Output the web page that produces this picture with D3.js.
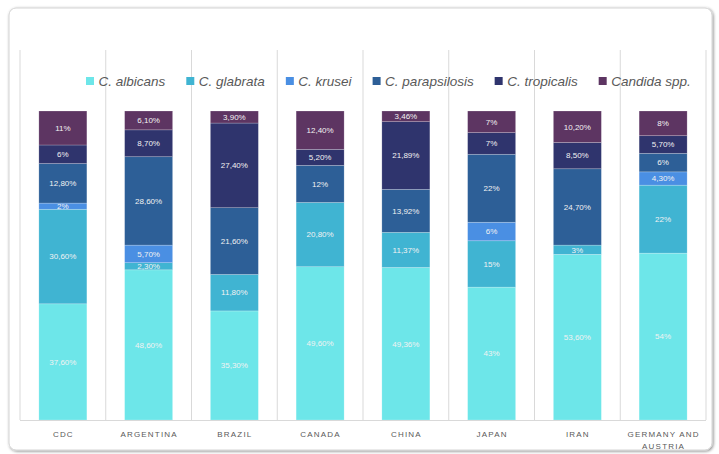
<!DOCTYPE html>
<html>
<head>
<meta charset="utf-8">
<script src="https://cdn.jsdelivr.net/npm/d3@7"></script>
<style>
  body { margin: 0; background: #fff; }
  svg { display: block; }
</style>
</head>
<body>
<div id="chart"></div>
<script>
// categories along the x axis
var countries = ["CDC", "ARGENTINA", "BRAZIL", "CANADA", "CHINA", "JAPAN", "IRAN", "GERMANY AND AUSTRIA"];
var species = ["C. albicans", "C. glabrata", "C. krusei", "C. parapsilosis", "C. tropicalis", "Candida spp."];

// percentage of each species, one value per country
var albicans     = [37.6, 48.6, 35.3, 49.6, 49.36, 43, 53.6, 54];
var glabrata     = [30.6, 2.3, 11.8, 20.8, 11.37, 15, 3, 22];
var krusei       = [2, 5.7, 0, 0, 0, 6, 0, 4.3];
var parapsilosis = [12.8, 28.6, 21.6, 12, 13.92, 22, 24.7, 6];
var tropicalis   = [6, 8.7, 27.4, 5.2, 21.89, 7, 8.5, 5.7];
var candidaSpp   = [11, 6.1, 3.9, 12.4, 3.46, 7, 10.2, 8];

var colors = ["#6de6e9", "#40b4d2", "#4a8fe3", "#2d5f97", "#2f346d", "#5d3562"];

var series = [albicans, glabrata, krusei, parapsilosis, tropicalis, candidaSpp];
var rows = countries.map(function(c, i) {
  var r = {country: c};
  species.forEach(function(s, j) { r[s] = series[j][i]; });
  return r;
});

var W = 719, H = 454;
var svg = d3.select("#chart").append("svg")
    .attr("width", W)
    .attr("height", H);

// frame with a soft shadow
var defs = svg.append("defs");
var f = defs.append("filter").attr("id", "shadow")
    .attr("x", "-5%").attr("y", "-5%").attr("width", "110%").attr("height", "110%");
f.append("feDropShadow").attr("dx", 1).attr("dy", 1).attr("stdDeviation", 1.6)
    .attr("flood-color", "#000").attr("flood-opacity", 0.45);

svg.append("rect")
    .attr("x", 9).attr("y", 8).attr("width", 703).attr("height", 442)
    .attr("rx", 7)
    .attr("fill", "#fff")
    .attr("stroke", "#d4d4d4")
    .attr("filter", "url(#shadow)");

var x = d3.scaleBand().domain(countries).range([20, 706]).padding(0);
var y = d3.scaleLinear().domain([0, 100]).range([420, 111]);
var barW = 48;

// vertical gridlines between categories
var edges = countries.map(function(c) { return x(c); }).concat([x.range()[1]]);
svg.append("g").selectAll("line")
  .data(edges)
  .join("line")
    .attr("x1", function(d) { return d; })
    .attr("x2", function(d) { return d; })
    .attr("y1", 50).attr("y2", 420)
    .attr("stroke", "#d9d9d9")
    .attr("stroke-width", 1);

var stack = d3.stack().keys(species);
var layers = stack(rows);

var fmt = function(v) {
  return (Number.isInteger(v) ? String(v) : v.toFixed(2).replace(".", ",")) + "%";
};

var g = svg.append("g");
layers.forEach(function(layer, j) {
  var lg = g.append("g");
  lg.selectAll("rect")
    .data(layer.filter(function(d) { return d[1] - d[0] > 0; }))
    .join("rect")
      .attr("x", function(d) { return x(d.data.country) + (x.bandwidth() - barW) / 2; })
      .attr("y", function(d) { return y(d[1]); })
      .attr("width", barW)
      .attr("height", function(d) { return y(d[0]) - y(d[1]); })
      .attr("fill", colors[j])
      .attr("stroke", "rgba(255,255,255,0.35)")
      .attr("stroke-width", 0.6);
});

layers.forEach(function(layer, j) {
  g.append("g").selectAll("text")
    .data(layer.filter(function(d) { return d[1] - d[0] > 0; }))
    .join("text")
      .attr("x", function(d) { return x(d.data.country) + x.bandwidth() / 2; })
      .attr("y", function(d) { return (y(d[0]) + y(d[1])) / 2; })
      .attr("dy", "0.35em")
      .attr("text-anchor", "middle")
      .attr("font-family", "'Liberation Sans', Arial, sans-serif")
      .attr("font-size", 8)
      .attr("fill", "#f2f2f2")
      .text(function(d) { return fmt(d[1] - d[0]); });
});

// baseline
svg.append("line")
    .attr("x1", 20).attr("x2", 706)
    .attr("y1", 420.5).attr("y2", 420.5)
    .attr("stroke", "#d9d9d9");

// category labels (wrapped at "AND")
var labels = svg.append("g").selectAll("text")
  .data(countries)
  .join("text")
    .attr("text-anchor", "middle")
    .attr("font-family", "'Liberation Sans', Arial, sans-serif")
    .attr("font-size", 8)
    .attr("letter-spacing", 1.2)
    .attr("fill", "#595959");
labels.each(function(c) {
  var t = d3.select(this);
  var parts = c === "GERMANY AND AUSTRIA" ? ["GERMANY AND", "AUSTRIA"] : [c];
  parts.forEach(function(p, k) {
    t.append("tspan")
      .attr("x", x(c) + x.bandwidth() / 2 + 0.5)
      .attr("y", 437 + k * 11.5)
      .text(p);
  });
});

// legend
var legend = svg.append("g");
var lx = 86;
species.forEach(function(s, j) {
  legend.append("rect")
    .attr("x", lx).attr("y", 77)
    .attr("width", 8).attr("height", 8)
    .attr("fill", colors[j]);
  var t = legend.append("text")
    .attr("x", lx + 12.5).attr("y", 86)
    .attr("font-family", "'Liberation Sans', Arial, sans-serif")
    .attr("font-style", "italic")
    .attr("font-size", 13.5)
    .attr("fill", "#595959")
    .text(s);
  lx += 12.5 + t.node().getComputedTextLength() + 21;
});
</script>
</body>
</html>
